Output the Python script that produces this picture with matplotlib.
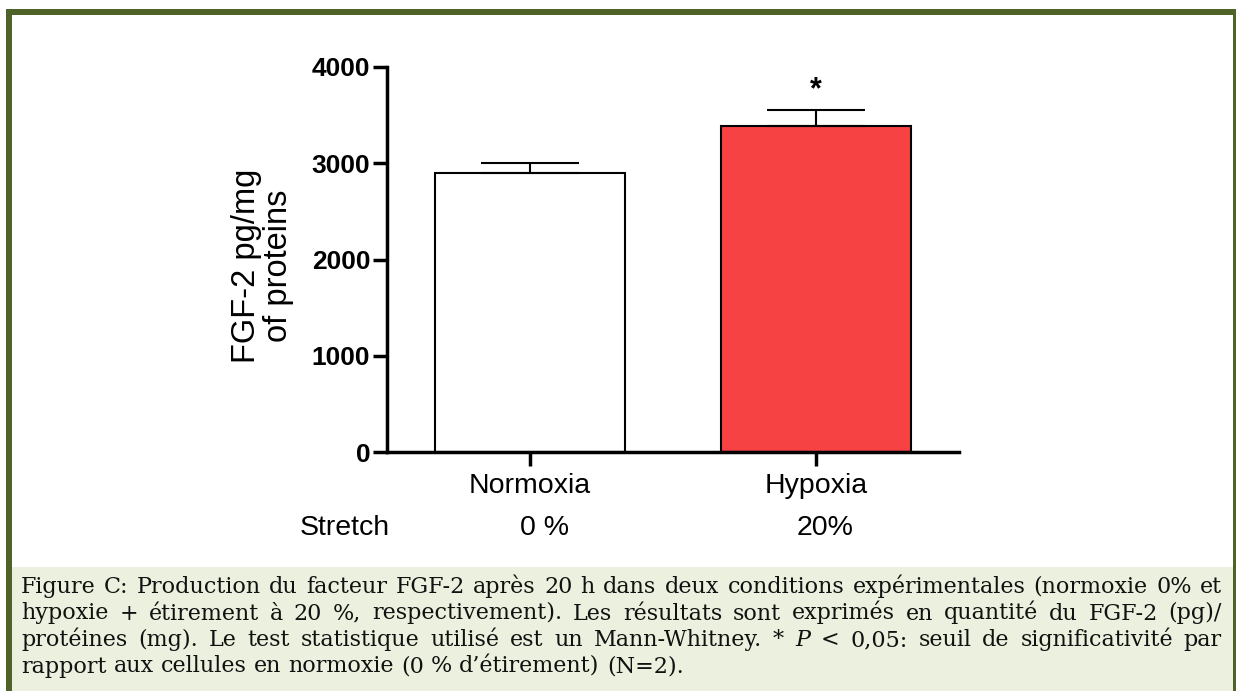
import matplotlib.pyplot as plt
import matplotlib.transforms as mtransforms
from matplotlib.patches import Rectangle

# FGF-2 production after 20 h (mean + SEM)
groups = ['Normoxia', 'Hypoxia']
stretch = ['0 %', '20%']
fgf2 = [2900, 3390]
sem = [100, 160]
bar_colors = ['white', '#F64242']
y_ticks = [0, 1000, 2000, 3000, 4000]

caption_lines = [
    'Figure C: Production du facteur FGF-2 après 20 h dans deux conditions expérimentales (normoxie 0% et',
    'hypoxie + étirement à 20 %, respectivement). Les résultats sont exprimés en quantité du FGF-2 (pg)/',
    'protéines (mg). Le test statistique utilisé est un Mann-Whitney. * P < 0,05: seuil de significativité par',
    'rapport aux cellules en normoxie (0 % d’étirement) (N=2).',
]

W, H = 1236, 691
green = '#4F6228'
caption_bg = '#EBF1DE'

plt.rcParams['font.family'] = ['Liberation Sans', 'DejaVu Sans']

fig = plt.figure(figsize=(W / 100, H / 100), dpi=100)

# frame + caption box, in pixel units
bg = fig.add_axes([0, 0, 1, 1], zorder=0)
bg.set_xlim(0, W)
bg.set_ylim(H, 0)
bg.axis('off')
bg.add_patch(Rectangle((12, 567), 1221, H - 567, color=caption_bg, lw=0))
bg.add_patch(Rectangle((6, 9), W - 6, 6, color=green, lw=0))
bg.add_patch(Rectangle((6, 9), 6, H - 9, color=green, lw=0))
bg.add_patch(Rectangle((1233, 9), 3, H - 9, color=green, lw=0))

# bar chart
ax = fig.add_axes([387 / W, 1 - 452 / H, 572 / W, 385 / H], zorder=1)
ax.patch.set_alpha(0)
x = range(len(groups))
ax.bar(x, fgf2, width=0.667, color=bar_colors, edgecolor='black', linewidth=1.5, zorder=2)
ax.errorbar(x, fgf2, yerr=[[0] * len(sem), sem], fmt='none', ecolor='black',
            elinewidth=1.5, capsize=35, capthick=1.5, zorder=3)
ax.annotate('*', xy=(1, fgf2[1] + sem[1]), xytext=(0, 9), textcoords='offset points',
            ha='center', va='baseline', fontsize=22, fontweight='bold')

ax.set_xlim(-0.5, 1.5)
ax.set_ylim(0, 4000)
ax.set_yticks(y_ticks)
ax.set_yticklabels([str(t) for t in y_ticks], fontsize=19, fontweight='bold')
ax.set_xticks(list(x))
ax.set_xticklabels(groups, fontsize=20.5)
for s in ['top', 'right']:
    ax.spines[s].set_visible(False)
for s in ['left', 'bottom']:
    ax.spines[s].set_linewidth(2.5)
ax.tick_params(axis='both', length=10, width=2.5)
ax.tick_params(axis='y', pad=2)
ax.tick_params(axis='x', pad=5)

ax.text(-0.217, 0.483, 'FGF-2 pg/mg\nof proteins', transform=ax.transAxes, rotation=90,
        ha='center', va='center', fontsize=23.5, linespacing=1.05)

# second row of category labels
row = mtransforms.blended_transform_factory(ax.transData, ax.transAxes)
ax.text(-0.647, -0.215, 'Stretch', transform=row, ha='center', va='baseline', fontsize=20.5)
for xi, s, dx in zip(x, stretch, [0.05, 0.03]):
    ax.text(xi + dx, -0.215, s, transform=row, ha='center', va='baseline', fontsize=20.5)

# justified caption
renderer = fig.canvas.get_renderer()
cap_kw = dict(fontsize=16, family='DejaVu Serif', color='#111111', va='baseline')
probe = bg.text(0, 0, 'x x', **cap_kw)
probe2 = bg.text(0, 0, 'xx', **cap_kw)
space = probe.get_window_extent(renderer).width - probe2.get_window_extent(renderer).width
probe.remove()
probe2.remove()

left, right = 21, 1222
for i, line in enumerate(caption_lines):
    y = 593 + i * 26.5
    words = line.split(' ')
    texts = [bg.text(0, y, w, style='italic' if w == 'P' else 'normal', **cap_kw) for w in words]
    widths = [t.get_window_extent(renderer).width for t in texts]
    last = i == len(caption_lines) - 1
    gap = space if last else (right - left - sum(widths)) / (len(words) - 1)
    xpos = left
    for t, w in zip(texts, widths):
        t.set_x(xpos)
        xpos += w + gap

fig.savefig('out.png', dpi=100)
